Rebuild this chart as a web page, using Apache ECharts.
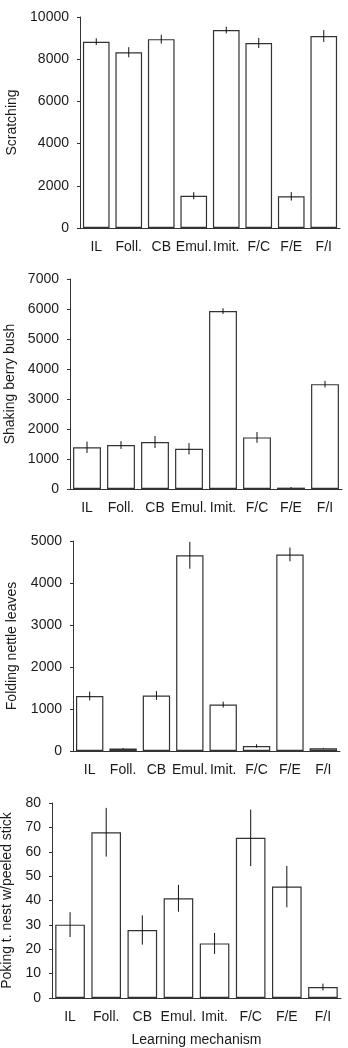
<!DOCTYPE html>
<html>
<head>
<meta charset="utf-8">
<script src="https://cdn.jsdelivr.net/npm/echarts@6/dist/echarts.min.js"></script>
<style>
  html, body { margin: 0; padding: 0; background: #fff; }
  #chart { width: 348px; height: 1048px; }
</style>
</head>
<body>
<div id="chart"></div>
<script>
var categories = ['IL', 'Foll.', 'CB', 'Emul.', 'Imit.', 'F/C', 'F/E', 'F/I'];

// means and half-length of the error bar
var scratchMean = [8830, 8330, 8950, 1530, 9380, 8770, 1500, 9100];
var scratchErr  = [160, 240, 210, 170, 160, 240, 200, 280];
var shakeMean   = [1390, 1465, 1565, 1340, 5930, 1720, 45, 3495];
var shakeErr    = [190, 130, 200, 190, 95, 180, 20, 110];
var foldMean    = [1310, 60, 1320, 4660, 1105, 120, 4680, 65];
var foldErr     = [105, 10, 105, 320, 70, 40, 165, 10];
var pokeMean    = [30.1, 68.0, 27.9, 40.9, 22.4, 65.7, 45.7, 4.5];
var pokeErr     = [5.1, 10, 6, 5.5, 4.3, 11.6, 8.5, 1.4];

// y axis: [max, interval]
var scratchAxis = [10000, 2000];
var shakeAxis   = [7000, 1000];
var foldAxis    = [5000, 1000];
var pokeAxis    = [80, 10];

var panelNames = ['Scratching', 'Shaking berry bush', 'Folding nettle leaves', 'Poking t. nest w/peeled stick'];
var xName = 'Learning mechanism';

var font = 'Liberation Sans, Arial, sans-serif';
var txt = '#1a1a1a';
var axisCol = '#333';
var fs = 14;

var panels = [
  { mean: scratchMean, err: scratchErr, axis: scratchAxis, grid: { left: 80, top: 17, width: 260, height: 211 }, gap: 58 },
  { mean: shakeMean, err: shakeErr, axis: shakeAxis, grid: { left: 70, top: 279, width: 272, height: 210 }, gap: 49 },
  { mean: foldMean, err: foldErr, axis: foldAxis, grid: { left: 73, top: 541, width: 267, height: 210 }, gap: 54 },
  { mean: pokeMean, err: pokeErr, axis: pokeAxis, grid: { left: 52, top: 803, width: 289, height: 195 }, gap: 30 }
];

var grids = [], xAxes = [], yAxes = [], series = [];
panels.forEach(function (p, i) {
  var g = Object.assign({ outerBoundsMode: 'none', containLabel: false }, p.grid);
  grids.push(g);
  xAxes.push({
    type: 'category',
    gridIndex: i,
    data: categories,
    name: i === 3 ? xName : '',
    nameLocation: 'middle',
    nameGap: 35,
    nameTextStyle: { color: txt, fontSize: fs, fontFamily: font },
    axisLine: { lineStyle: { color: axisCol, width: 1 } },
    axisTick: { alignWithLabel: true, length: 4, lineStyle: { color: axisCol } },
    axisLabel: { color: txt, fontSize: fs, fontFamily: font, margin: 12, interval: 0 }
  });
  yAxes.push({
    type: 'value',
    gridIndex: i,
    min: 0,
    max: p.axis[0],
    interval: p.axis[1],
    name: panelNames[i],
    nameLocation: 'middle',
    nameGap: p.gap,
    nameTextStyle: { color: txt, fontSize: fs, fontFamily: font },
    axisLine: { show: true, lineStyle: { color: axisCol, width: 1 } },
    axisTick: { show: true, length: 3, lineStyle: { color: axisCol } },
    axisLabel: {
      color: txt, fontSize: fs, fontFamily: font, margin: 11,
      formatter: function (v) { return String(v); }
    },
    splitLine: { show: false }
  });
  series.push({
    type: 'bar',
    xAxisIndex: i,
    yAxisIndex: i,
    data: p.mean,
    barCategoryGap: '18%',
    itemStyle: { color: '#fff', borderColor: '#333', borderWidth: 1.2 },
    silent: true
  });
  var errData = p.mean.map(function (m, k) { return [k, m - p.err[k], m + p.err[k]]; });
  series.push({
    type: 'custom',
    xAxisIndex: i,
    yAxisIndex: i,
    data: errData,
    z: 5,
    silent: true,
    renderItem: function (params, api) {
      var lo = api.coord([api.value(0), api.value(1)]);
      var hi = api.coord([api.value(0), api.value(2)]);
      return {
        type: 'line',
        shape: { x1: lo[0], y1: lo[1], x2: hi[0], y2: hi[1] },
        style: { stroke: '#111', lineWidth: 1 }
      };
    }
  });
});

var chart = echarts.init(document.getElementById('chart'), null, { renderer: 'canvas' });
chart.setOption({
  animation: false,
  backgroundColor: '#fff',
  grid: grids,
  xAxis: xAxes,
  yAxis: yAxes,
  series: series
});
</script>
</body>
</html>
